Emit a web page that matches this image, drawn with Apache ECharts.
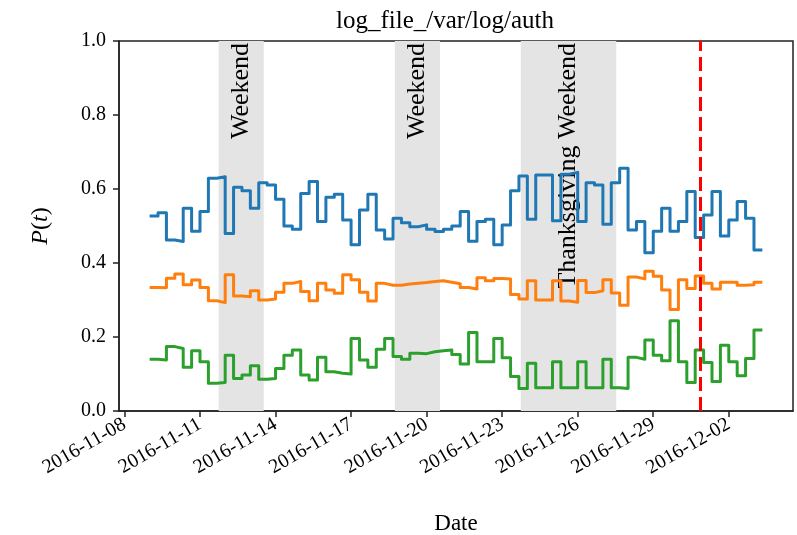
<!DOCTYPE html>
<html>
<head>
<meta charset="utf-8">
<script src="https://cdn.jsdelivr.net/npm/echarts@6/dist/echarts.min.js"></script>
<style>
  html, body { margin: 0; padding: 0; background: #ffffff; }
  #chart { width: 797px; height: 535px; }
</style>
</head>
<body>
<div id="chart"></div>
<script>
// Per-state probabilities P(t), one value per 8-hour window starting 2016-11-09 00:00 UTC
const HOUR = 3600 * 1000;
const startTime = Date.UTC(2016, 10, 9, 0, 0);
const stepHours = 8;

const stateA = [
  0.527, 0.536, 0.462, 0.458, 0.548, 0.486, 0.539, 0.629, 0.633, 0.480,
  0.605, 0.595, 0.548, 0.617, 0.611, 0.572, 0.500, 0.491, 0.588, 0.620,
  0.512, 0.578, 0.586, 0.516, 0.449, 0.543, 0.586, 0.489, 0.465, 0.521,
  0.509, 0.498, 0.503, 0.491, 0.485, 0.491, 0.500, 0.539, 0.459, 0.512,
  0.518, 0.449, 0.503, 0.595, 0.635, 0.518, 0.638, 0.638, 0.514, 0.640,
  0.645, 0.512, 0.617, 0.611, 0.505, 0.617, 0.656, 0.489, 0.512, 0.428,
  0.486, 0.548, 0.486, 0.512, 0.593, 0.469, 0.530, 0.593, 0.473, 0.516,
  0.566, 0.521, 0.435
];
const stateB = [
  0.334, 0.333, 0.359, 0.370, 0.341, 0.354, 0.334, 0.298, 0.293, 0.368,
  0.311, 0.309, 0.325, 0.300, 0.303, 0.321, 0.345, 0.350, 0.323, 0.298,
  0.345, 0.327, 0.318, 0.368, 0.355, 0.321, 0.297, 0.345, 0.340, 0.340,
  0.343, 0.345, 0.347, 0.350, 0.352, 0.348, 0.344, 0.334, 0.330, 0.360,
  0.352, 0.358, 0.357, 0.315, 0.303, 0.352, 0.300, 0.300, 0.352, 0.297,
  0.294, 0.353, 0.320, 0.325, 0.355, 0.319, 0.286, 0.362, 0.357, 0.378,
  0.364, 0.327, 0.274, 0.355, 0.331, 0.365, 0.345, 0.330, 0.348, 0.348,
  0.340, 0.341, 0.348
];
const stateC = [
  0.140, 0.138, 0.174, 0.169, 0.118, 0.163, 0.133, 0.075, 0.077, 0.151,
  0.088, 0.097, 0.122, 0.086, 0.088, 0.115, 0.151, 0.165, 0.097, 0.084,
  0.145, 0.106, 0.102, 0.100, 0.196, 0.138, 0.118, 0.167, 0.196, 0.147,
  0.140, 0.156, 0.155, 0.160, 0.163, 0.165, 0.153, 0.127, 0.212, 0.133,
  0.133, 0.196, 0.144, 0.093, 0.061, 0.129, 0.063, 0.063, 0.133, 0.063,
  0.063, 0.133, 0.063, 0.063, 0.140, 0.063, 0.061, 0.145, 0.140, 0.192,
  0.151, 0.136, 0.244, 0.133, 0.077, 0.165, 0.131, 0.080, 0.178, 0.133,
  0.095, 0.142, 0.219
];

const xTickDates = [
  '2016-11-08', '2016-11-11', '2016-11-14', '2016-11-17', '2016-11-20',
  '2016-11-23', '2016-11-26', '2016-11-29', '2016-12-02'
];
const yTickValues = [0.0, 0.2, 0.4, 0.6, 0.8, 1.0];

const shadedPeriods = [
  { label: 'Weekend', from: '2016-11-11T17:45:00Z', to: '2016-11-13T12:45:00Z' },
  { label: 'Weekend', from: '2016-11-18T17:45:00Z', to: '2016-11-20T12:45:00Z' },
  { label: 'Thanksgiving Weekend', from: '2016-11-23T17:45:00Z', to: '2016-11-27T12:45:00Z' }
];
const changePoint = '2016-11-30T21:00:00Z';

const xRange = { min: '2016-11-07T18:48:00Z', max: '2016-12-04T13:12:00Z' };

const FONT = 'Liberation Serif';

// Step series: each value holds for its 8-hour window
function toStepPoints(values) {
  const pts = values.map((v, i) => [startTime + i * stepHours * HOUR, v]);
  pts.push([startTime + values.length * stepHours * HOUR, values[values.length - 1]]);
  return pts;
}

function fmtDate(ms) {
  const d = new Date(ms);
  const p = (n) => String(n).padStart(2, '0');
  return d.getUTCFullYear() + '-' + p(d.getUTCMonth() + 1) + '-' + p(d.getUTCDate());
}

const tickMs = xTickDates.map((s) => Date.parse(s + 'T00:00:00Z'));

const lineSeries = (name, values, color) => ({
  name: name,
  type: 'line',
  step: 'end',
  data: toStepPoints(values),
  showSymbol: false,
  symbol: 'none',
  z: 3,
  lineStyle: { color: color, width: 3, join: 'round', cap: 'butt' },
  emphasis: { disabled: true },
  animation: false
});

const chart = echarts.init(document.getElementById('chart'), null, { renderer: 'canvas' });

chart.setOption({
  animation: false,
  backgroundColor: '#ffffff',
  title: {
    text: 'log_file_/var/log/auth',
    left: 440,
    top: 4,
    textAlign: 'center',
    textStyle: { fontFamily: FONT, fontSize: 25, fontWeight: 'normal', color: '#000' }
  },
  grid: {
    left: 119, right: 4, top: 41, bottom: 124,
    containLabel: false,
    outerBoundsMode: 'none',
    show: true, borderColor: '#222', borderWidth: 1.5, backgroundColor: 'transparent'
  },
  xAxis: {
    type: 'value',
    min: Date.parse(xRange.min),
    max: Date.parse(xRange.max),
    name: 'Date',
    nameLocation: 'middle',
    nameGap: 101,
    nameTextStyle: { fontFamily: FONT, fontSize: 23, color: '#000' },
    axisLine: { show: true, lineStyle: { color: '#222', width: 1.5 } },
    axisTick: { show: true, length: 6, lineStyle: { color: '#222', width: 1.5 }, customValues: tickMs },
    axisLabel: {
      customValues: tickMs,
      rotate: 30,
      margin: 12,
      fontFamily: FONT, fontSize: 20, color: '#000',
      formatter: (v) => fmtDate(v)
    },
    splitLine: { show: false }
  },
  yAxis: {
    type: 'value',
    min: 0, max: 1, interval: 0.2,
    name: '{i|P}{n|(}{i|t}{n|)}',
    nameLocation: 'middle',
    nameGap: 66,
    nameRotate: 90,
    nameTextStyle: {
      fontFamily: FONT, fontSize: 24, color: '#000',
      rich: {
        i: { fontFamily: FONT, fontSize: 24, fontStyle: 'italic', color: '#000' },
        n: { fontFamily: FONT, fontSize: 24, color: '#000' }
      }
    },
    axisLine: { show: true, lineStyle: { color: '#222', width: 1.5 } },
    axisTick: { show: true, length: 6, lineStyle: { color: '#222', width: 1.5 } },
    axisLabel: {
      margin: 13,
      fontFamily: FONT, fontSize: 20, color: '#000',
      formatter: (v) => (yTickValues.indexOf(+v.toFixed(1)) >= 0 ? v.toFixed(1) : '')
    },
    splitLine: { show: false }
  },
  series: [
    {
      name: 'periods',
      type: 'line',
      data: [],
      z: 1,
      silent: true,
      markArea: {
        silent: true,
        itemStyle: { color: '#e4e4e4' },
        label: {
          show: true,
          position: 'insideTop',
          distance: 2,
          rotate: 90,
          align: 'right',
          verticalAlign: 'middle',
          fontFamily: FONT, fontSize: 26, color: '#000'
        },
        data: shadedPeriods.map((p) => [
          { name: p.label, xAxis: Date.parse(p.from) },
          { xAxis: Date.parse(p.to) }
        ])
      }
    },
    lineSeries('A', stateA, '#1f77b4'),
    lineSeries('B', stateB, '#ff7f0e'),
    lineSeries('C', stateC, '#2ca02c'),
    {
      name: 'change',
      type: 'line',
      data: [],
      z: 5,
      markLine: {
        silent: true,
        symbol: ['none', 'none'],
        label: { show: false },
        lineStyle: { color: '#ff0000', width: 3, type: [14, 6] },
        data: [{ xAxis: Date.parse(changePoint) }]
      }
    }
  ]
});
</script>
</body>
</html>
